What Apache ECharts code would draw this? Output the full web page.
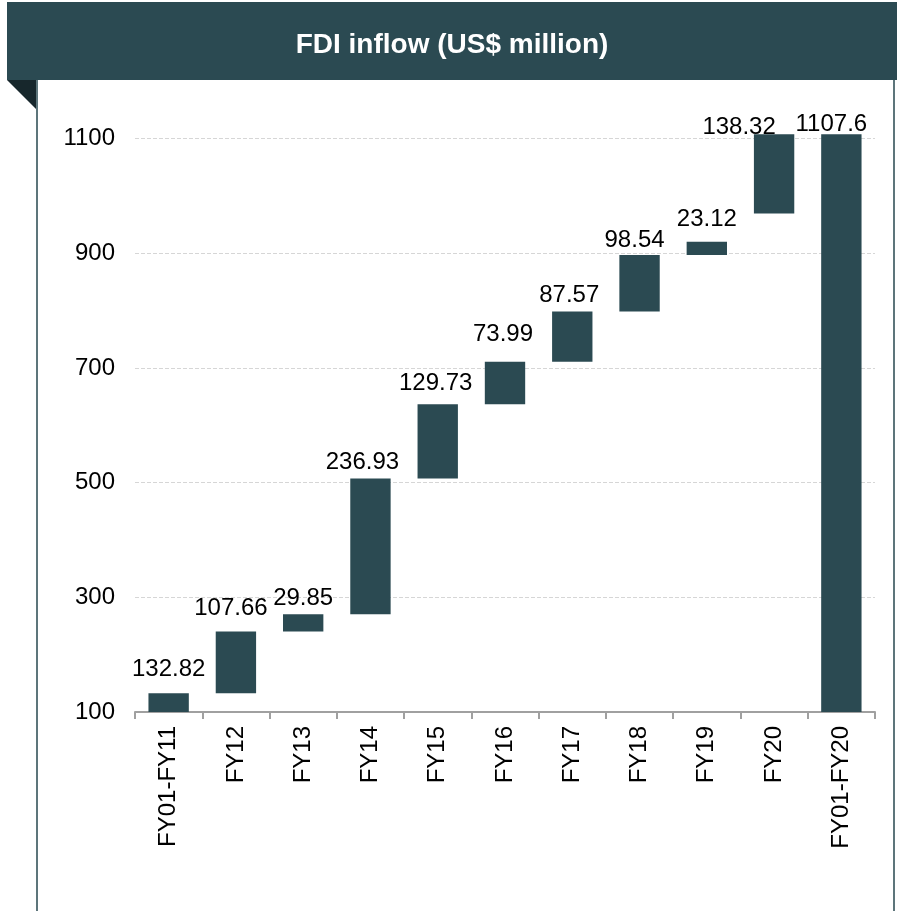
<!DOCTYPE html>
<html>
<head>
<meta charset="utf-8">
<script src="https://cdn.jsdelivr.net/npm/echarts@6/dist/echarts.min.js"></script>
<style>
  html, body { margin: 0; padding: 0; background: #fff; }
  #chart { width: 897px; height: 911px; }
</style>
</head>
<body>
<div id="chart"></div>
<script>
// FDI inflow, waterfall
var categories = ['FY01-FY11', 'FY12', 'FY13', 'FY14', 'FY15', 'FY16', 'FY17', 'FY18', 'FY19', 'FY20', 'FY01-FY20'];
var increments = [132.82, 107.66, 29.85, 236.93, 129.73, 73.99, 87.57, 98.54, 23.12, 138.32, 1107.6];
// where each bar starts
var starts = [0, 132.82, 240.48, 270.33, 507.26, 636.99, 710.98, 798.55, 897.09, 969.28, 0];
var yTicks = [100, 300, 500, 700, 900, 1100];

var teal = '#2b4a52';

// hand placed data labels in the original, nudged per bar
var labelNudge = [[0, -12], [-5, -11], [0, -4], [-8, -4], [-2, -9], [-2, -15],
                  [-3, -4], [-5, -3], [0, -10], [-35, 5], [-10, 2]];

var chart = echarts.init(document.getElementById('chart'));

var option = {
    animation: false,
    textStyle: { fontFamily: 'Liberation Sans, Arial, sans-serif' },
    graphic: [
        { type: 'rect', shape: { x: 7, y: 2, width: 890, height: 78 }, style: { fill: teal } },
        { type: 'polygon', shape: { points: [[7, 80], [37, 80], [37, 110]] }, style: { fill: '#17272c' } },
        { type: 'line', shape: { x1: 37, y1: 80, x2: 37, y2: 911 }, style: { stroke: '#5d757b', lineWidth: 2 } },
        { type: 'line', shape: { x1: 894, y1: 80, x2: 894, y2: 911 }, style: { stroke: '#5d757b', lineWidth: 2 } },
        {
            type: 'text', x: 452, y: 45,
            style: {
                text: 'FDI inflow (US$ million)', fill: '#fff',
                font: 'bold 28px "Liberation Sans", Arial, sans-serif',
                align: 'center', verticalAlign: 'middle'
            }
        }
    ],
    grid: { left: 135, right: 22, top: 110, bottom: 199, containLabel: false },
    xAxis: {
        type: 'category',
        data: categories,
        axisLine: { lineStyle: { color: '#a0a0a0', width: 2 } },
        axisTick: { show: true, length: 7, lineStyle: { color: '#a0a0a0', width: 2 } },
        axisLabel: { rotate: 90, fontSize: 24, color: '#000', margin: 14, interval: 0 }
    },
    yAxis: {
        type: 'value',
        min: 100,
        max: 1150,
        interval: 200,
        axisLine: { show: false },
        axisTick: { show: false },
        splitLine: { show: false },
        axisLabel: {
            fontSize: 24, color: '#000', margin: 20, showMaxLabel: false,
            formatter: function (v) { return yTicks.indexOf(v) >= 0 ? v : ''; }
        }
    },
    series: [
        {
            type: 'bar',
            stack: 'w',
            z: 2,
            data: starts,
            itemStyle: { color: 'transparent' },
            silent: true,
            markLine: {
                silent: true,
                z: 1,
                symbol: 'none',
                label: { show: false },
                lineStyle: { color: '#d6d6d6', type: 'dashed', width: 1 },
                data: yTicks.slice(1).map(function (v) { return { yAxis: v }; })
            }
        },
        {
            type: 'bar',
            stack: 'w',
            z: 3,
            barWidth: '60%',
            data: increments.map(function (v, i) {
                return { value: v, label: { offset: labelNudge[i] } };
            }),
            itemStyle: { color: teal },
            label: {
                show: true, position: 'top', distance: 0,
                fontSize: 24, color: '#000'
            }
        }
    ]
};

chart.setOption(option);
</script>
</body>
</html>
